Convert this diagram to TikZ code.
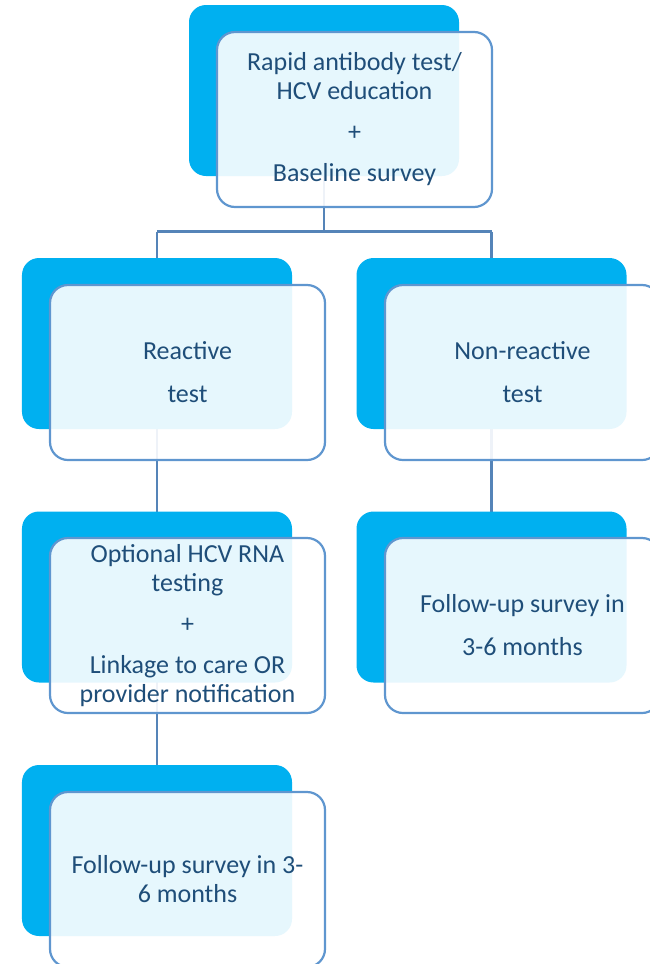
\documentclass[tikz,border=0pt]{standalone}
\usepackage{fontspec}
\setmainfont{Carlito}
\definecolor{backblue}{HTML}{00B0F0}
\definecolor{edgeblue}{HTML}{5F96CF}
\definecolor{linkblue}{HTML}{5584B8}
\definecolor{txtblue}{HTML}{1F4E79}
\tikzset{
  backbox/.style={rectangle, rounded corners=17bp, fill=backblue, draw=none,
    minimum width=270bp, minimum height=171bp, inner sep=0pt},
  frontbox/.style={rectangle, rounded corners=18bp, draw=edgeblue, line width=2.2bp,
    fill=white, fill opacity=0.9, text opacity=1, text=txtblue,
    minimum width=275bp, minimum height=175bp, inner sep=0pt, align=center,
    font=\fontsize{26bp}{29bp}\selectfont},
  loose/.style={font=\fontsize{26bp}{43bp}\selectfont},
  link/.style={draw=linkblue, line width=2.6bp}
}
\begin{document}
\begin{tikzpicture}[x=1bp,y=-1bp]
\useasboundingbox (0,0) rectangle (650,964);
\clip (0,0) rectangle (650,964);
% centres of the back plates, used by the connectors
\coordinate (cT) at (324,90.5);
\coordinate (cR) at (157,343.5);
\coordinate (cN) at (491.5,343.5);
\coordinate (cL) at (157,597);
\coordinate (cF) at (491.5,597);
\coordinate (cB) at (157,850.5);
\coordinate (j) at (324,231.5);
% connectors (drawn beneath the boxes)
\draw[link] (cT) -- (j);
\draw[link] (cR |- j) -- (cN |- j);
\draw[link] (cR |- j) -- (cR);
\draw[link] (cN |- j) -- (cN);
\draw[link] (cR) -- (cL);
\draw[link] (cN) -- (cF);
\draw[link] (cL) -- (cB);
% back plates
\node[backbox] (bT) at (cT) {};
\node[backbox] (bR) at (cR) {};
\node[backbox] (bN) at (cN) {};
\node[backbox] (bL) at (cL) {};
\node[backbox] (bF) at (cF) {};
\node[backbox] (bB) at (cB) {};
% front boxes
\node[frontbox] (fT) at (354.5,119.5) {Rapid antibody test/\\HCV education\\[12bp]+\\[12bp]Baseline survey};
\node[frontbox,loose] (fR) at (187.5,372.5) {Reactive\\test};
\node[frontbox,loose] (fN) at (522.5,372.5) {Non-reactive\\test};
\node[frontbox] (fL) at (187.5,625.5) {Optional HCV RNA\\testing\\[12bp]+\\[12bp]Linkage to care OR\\provider notification};
\node[frontbox,loose] (fF) at (522.5,625.5) {Follow-up survey in\\3-6 months};
\node[frontbox] (fB) at (187.5,879.5) {Follow-up survey in 3-\\6 months};
\end{tikzpicture}
\end{document}
